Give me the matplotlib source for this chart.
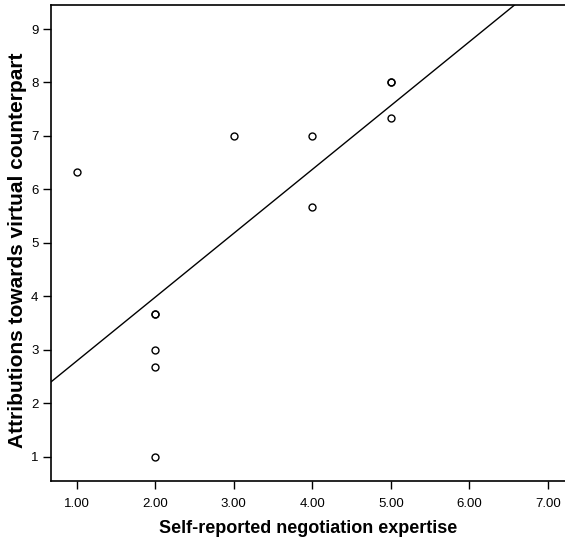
import matplotlib
matplotlib.use("Agg")
import matplotlib.pyplot as plt
import numpy as np

# datos (los puntos repetidos se ven mas gruesos)
expertise = [1, 2, 2, 2, 2, 2, 3, 4, 4, 5, 5, 5]
attributions = [6.33, 3.67, 3.67, 3.0, 2.67, 1.0, 7.0, 7.0, 5.67, 8.0, 8.0, 7.33]
x_ticks = [1, 2, 3, 4, 5, 6, 7]
y_ticks = [1, 2, 3, 4, 5, 6, 7, 8, 9]

plt.rcParams['font.family'] = ['Liberation Sans', 'DejaVu Sans']

fig = plt.figure(figsize=(5.65, 5.48), dpi=100)
ax = fig.add_axes([0.0903, 0.1228, 0.9097, 0.8681])

ax.plot(expertise, attributions, linestyle='none', marker='o', markersize=5,
        markerfacecolor='none', markeredgecolor='black', markeredgewidth=1.0)

# recta de regresion
pendiente, intercepto = np.polyfit(expertise, attributions, 1)
xl = np.array([0.673, 7.217])
ax.plot(xl, intercepto + pendiente * xl, color='black', lw=1.0)

ax.set_xlim(0.673, 7.217)
ax.set_ylim(0.55, 9.45)
ax.set_xticks(x_ticks)
ax.set_xticklabels(['%.2f' % t for t in x_ticks])
ax.set_yticks(y_ticks)
ax.set_yticklabels([str(t) for t in y_ticks])
ax.tick_params(direction='out', length=5.5, width=1, labelsize=9.5)
ax.tick_params(axis='x', pad=7)
ax.tick_params(axis='y', pad=3.5)

ax.spines['right'].set_visible(False)
for s in ['left', 'bottom', 'top']:
    ax.spines[s].set_linewidth(1.2)

ax.set_xlabel('Self-reported negotiation expertise', fontsize=13, fontweight='bold', labelpad=7)
ax.set_ylabel('Attributions towards virtual counterpart', fontsize=15, fontweight='bold')
ax.yaxis.set_label_coords(-0.047, 0.484)

fig.savefig('out.png', dpi=100)
